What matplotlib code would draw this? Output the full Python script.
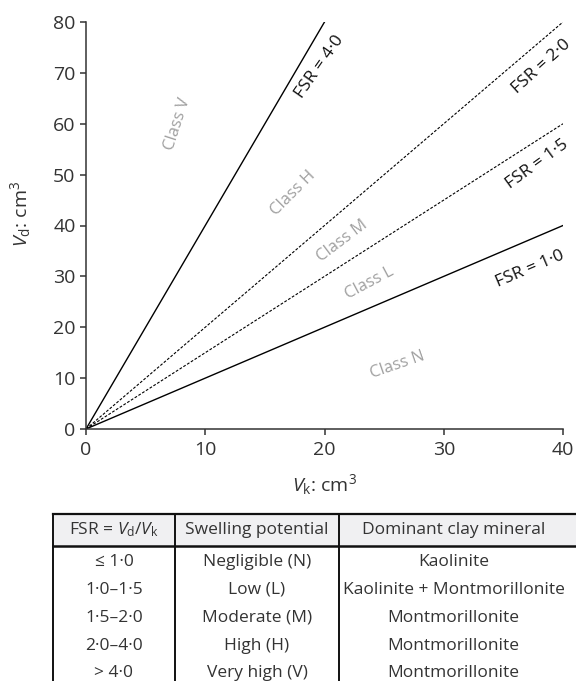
import numpy as np
import matplotlib
matplotlib.use('Agg')
import matplotlib.pyplot as plt

plt.rcParams['font.family'] = ['Open Sans', 'DejaVu Sans']
plt.rcParams['mathtext.fontset'] = 'custom'
plt.rcParams['mathtext.rm'] = 'Open Sans'
plt.rcParams['mathtext.it'] = 'Open Sans:italic'

# boundary lines  Vd = FSR * Vk
fsr_values = [4.0, 2.0, 1.5, 1.0]
fsr_labels = ['FSR = 4·0', 'FSR = 2·0', 'FSR = 1·5', 'FSR = 1·0']
fsr_dashed = [False, True, True, False]
x_max = 40
y_max = 80

# class labels inside the regions
class_names = ['Class V', 'Class H', 'Class M', 'Class L', 'Class N']

# table
table_header = ['FSR = $V_{\\mathrm{d}}$/$V_{\\mathrm{k}}$', 'Swelling potential', 'Dominant clay mineral']
table_fsr = ['≤ 1·0', '1·0–1·5', '1·5–2·0', '2·0–4·0', '> 4·0']
table_swell = ['Negligible (N)', 'Low (L)', 'Moderate (M)', 'High (H)', 'Very high (V)']
table_mineral = ['Kaolinite', 'Kaolinite + Montmorillonite', 'Montmorillonite',
                 'Montmorillonite', 'Montmorillonite']

W, H = 576, 681
fig = plt.figure(figsize=(W / 100, H / 100), dpi=100)
ax = fig.add_axes([86 / W, 1 - 429 / H, 477 / W, 407 / H])

dark = '#333333'
for fsr, dashed in zip(fsr_values, fsr_dashed):
    xe = min(x_max, y_max / fsr)
    xs = np.array([0, xe])
    if dashed:
        ax.plot(xs, fsr * xs, color='black', lw=0.8, linestyle=(0, (2.5, 1.5)))
    else:
        ax.plot(xs, fsr * xs, color='black', lw=1.0)

ax.set_xlim(0, x_max)
ax.set_ylim(0, y_max)
ax.set_xticks([0, 10, 20, 30, 40])
ax.set_yticks(range(0, 81, 10))
for s in ['top', 'right']:
    ax.spines[s].set_visible(False)
for s in ['left', 'bottom']:
    ax.spines[s].set_color(dark)
    ax.spines[s].set_linewidth(1.1)
ax.tick_params(direction='out', length=4.5, width=1.1, color=dark,
               labelsize=14, labelcolor=dark)
ax.tick_params(axis='y', pad=3)
ax.tick_params(axis='x', pad=4)
ax.set_xlabel('$V_{\\mathrm{k}}$: cm$^{3}$', fontsize=14, color=dark)
ax.set_ylabel('$V_{\\mathrm{d}}$: cm$^{3}$', fontsize=14, color=dark)
ax.xaxis.set_label_coords(0.5, -0.105)
ax.yaxis.set_label_coords(-0.112, 0.528)

# FSR labels along the lines (screen angles)
fsr_pos = [(19.6, 71.1, 55), (38.2, 71.3, 42), (37.8, 52.0, 36), (37.2, 31.4, 23)]
for lab, (tx, ty, ang) in zip(fsr_labels, fsr_pos):
    ax.text(tx, ty, lab, rotation=ang, rotation_mode='anchor',
            ha='center', va='center', fontsize=12.5, color='#111111')

class_pos = [(7.7, 59.9, 72), (17.4, 46.4, 45), (21.5, 36.9, 37), (23.8, 28.7, 28), (26.1, 12.6, 19)]
for name, (tx, ty, ang) in zip(class_names, class_pos):
    ax.text(tx, ty, name, rotation=ang, rotation_mode='anchor',
            ha='center', va='center', fontsize=12, color='#a0a0a0')

# table drawn in pixel coordinates
tax = fig.add_axes([0, 0, 1, 1])
tax.set_xlim(0, W)
tax.set_ylim(H, 0)
tax.axis('off')
left, c1, c2, right = 53, 175, 339, 576
top, hb = 514, 546
tax.fill_between([left, right], top, hb, color='#f0f0f2', lw=0)
tax.plot([left, right], [top, top], color='#111111', lw=1.6)
tax.plot([left, right], [hb, hb], color='#111111', lw=1.8)
for xc in [left, c1, c2]:
    tax.plot([xc, xc], [top, H], color='#111111', lw=1.4)
col_centers = [(left + c1) / 2, (c1 + c2) / 2, (c2 + right) / 2 - 4]
for xc, txt in zip(col_centers, table_header):
    tax.text(xc, 530, txt, ha='center', va='center', fontsize=12.5, color=dark)
row_y = [562, 590, 618, 646, 673]
for i, yy in enumerate(row_y):
    for xc, txt in zip(col_centers, [table_fsr[i], table_swell[i], table_mineral[i]]):
        tax.text(xc, yy, txt, ha='center', va='center', fontsize=12.5, color=dark)

fig.savefig('out.png', dpi=100)
